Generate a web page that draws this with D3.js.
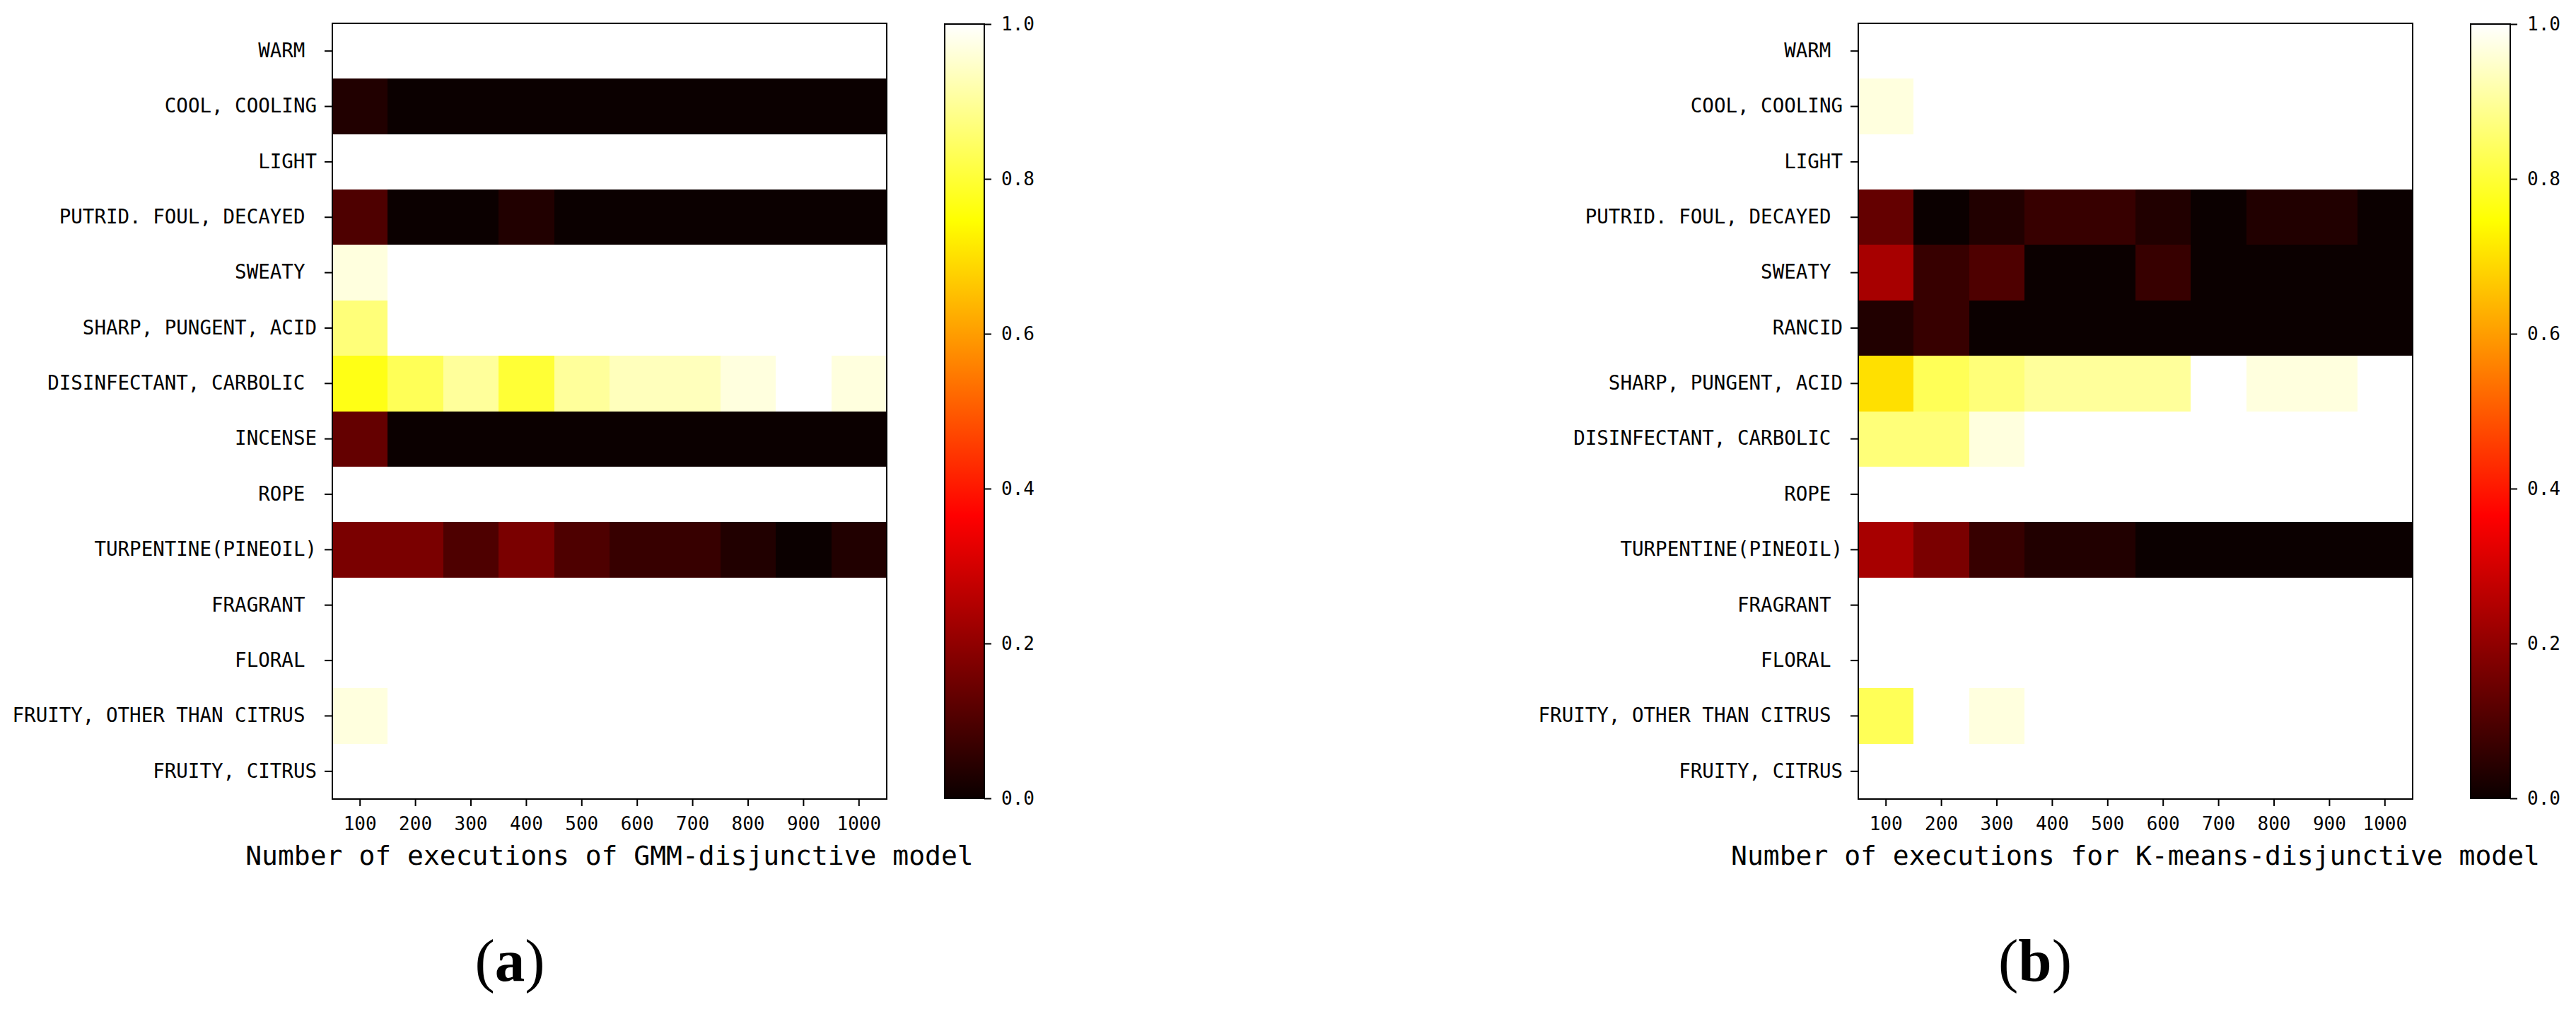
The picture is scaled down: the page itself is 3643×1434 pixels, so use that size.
<!DOCTYPE html>
<html>
<head>
<meta charset="utf-8">
<script src="https://cdn.jsdelivr.net/npm/d3@7"></script>
<style>
  body { margin: 0; background: #fff; }
  svg text { white-space: pre; }
</style>
</head>
<body>
<svg id="chart" width="3643" height="1434"></svg>
<script>
// data
var executions = ["100", "200", "300", "400", "500", "600", "700", "800", "900", "1000"];

var gmmCategories = ["WARM ", "COOL, COOLING", "LIGHT", "PUTRID. FOUL, DECAYED ", "SWEATY ",
	"SHARP, PUNGENT, ACID", "DISINFECTANT, CARBOLIC ", "INCENSE", "ROPE ", "TURPENTINE(PINEOIL)",
	"FRAGRANT ", "FLORAL ", "FRUITY, OTHER THAN CITRUS ", "FRUITY, CITRUS"];

var kmeansCategories = ["WARM ", "COOL, COOLING", "LIGHT", "PUTRID. FOUL, DECAYED ", "SWEATY ",
	"RANCID", "SHARP, PUNGENT, ACID", "DISINFECTANT, CARBOLIC ", "ROPE ", "TURPENTINE(PINEOIL)",
	"FRAGRANT ", "FLORAL ", "FRUITY, OTHER THAN CITRUS ", "FRUITY, CITRUS"];

var gmmValues = [
	[1, 1, 1, 1, 1, 1, 1, 1, 1, 1],
	[0.033, 0, 0, 0, 0, 0, 0, 0, 0, 0],
	[1, 1, 1, 1, 1, 1, 1, 1, 1, 1],
	[0.1, 0, 0, 0.033, 0, 0, 0, 0, 0, 0],
	[0.967, 1, 1, 1, 1, 1, 1, 1, 1, 1],
	[0.867, 1, 1, 1, 1, 1, 1, 1, 1, 1],
	[0.767, 0.833, 0.9, 0.8, 0.9, 0.933, 0.933, 0.967, 1, 0.967],
	[0.133, 0, 0, 0, 0, 0, 0, 0, 0, 0],
	[1, 1, 1, 1, 1, 1, 1, 1, 1, 1],
	[0.167, 0.167, 0.1, 0.167, 0.1, 0.067, 0.067, 0.033, 0, 0.033],
	[1, 1, 1, 1, 1, 1, 1, 1, 1, 1],
	[1, 1, 1, 1, 1, 1, 1, 1, 1, 1],
	[0.967, 1, 1, 1, 1, 1, 1, 1, 1, 1],
	[1, 1, 1, 1, 1, 1, 1, 1, 1, 1]
];

var kmeansValues = [
	[1, 1, 1, 1, 1, 1, 1, 1, 1, 1],
	[0.967, 1, 1, 1, 1, 1, 1, 1, 1, 1],
	[1, 1, 1, 1, 1, 1, 1, 1, 1, 1],
	[0.133, 0, 0.033, 0.067, 0.067, 0.033, 0, 0.033, 0.033, 0],
	[0.233, 0.067, 0.1, 0, 0, 0.067, 0, 0, 0, 0],
	[0.033, 0.067, 0, 0, 0, 0, 0, 0, 0, 0],
	[0.7, 0.833, 0.867, 0.9, 0.9, 0.9, 1, 0.967, 0.967, 1],
	[0.867, 0.867, 0.967, 1, 1, 1, 1, 1, 1, 1],
	[1, 1, 1, 1, 1, 1, 1, 1, 1, 1],
	[0.233, 0.167, 0.067, 0.033, 0.033, 0, 0, 0, 0, 0],
	[1, 1, 1, 1, 1, 1, 1, 1, 1, 1],
	[1, 1, 1, 1, 1, 1, 1, 1, 1, 1],
	[0.833, 1, 0.967, 1, 1, 1, 1, 1, 1, 1],
	[1, 1, 1, 1, 1, 1, 1, 1, 1, 1]
];

var colorbarTicks = [0, 0.2, 0.4, 0.6, 0.8, 1.0];

var xLabels = ["Number of executions of GMM-disjunctive model", "Number of executions for K-means-disjunctive model"];
var panelLetters = ["a", "b"];

var plot = {};
plot.top = 33;
plot.bottom = 1130;
plot.width = 784;
plot.cbWidth = 56;
plot.monoFont = "'DejaVu Sans Mono', monospace";

// matplotlib "hot" colormap, piecewise linear
var hotStops = [
	{ at: 0, c: [0.0416, 0, 0] },
	{ at: 0.365079, c: [1, 0, 0] },
	{ at: 0.746032, c: [1, 1, 0] },
	{ at: 1, c: [1, 1, 1] }
];
function hot(t) {
	t = Math.max(0, Math.min(1, t));
	for (var i = 1; i < hotStops.length; i++) {
		if (t <= hotStops[i].at) {
			var a = hotStops[i - 1], b = hotStops[i];
			var k = (t - a.at) / (b.at - a.at);
			var c = a.c.map(function(v, j){ return Math.round(255 * (v + (b.c[j] - v) * k)); });
			return d3.rgb(c[0], c[1], c[2]).formatHex();
		}
	}
	return "#ffffff";
}
var color = d3.scaleSequential(hot).domain([0, 1]);

var svg = d3.select("#chart");
var defs = svg.append("defs");

var grad = defs.append("linearGradient")
	.attr("id", "hotgrad")
	.attr("x1", 0).attr("y1", 1).attr("x2", 0).attr("y2", 0);
grad.selectAll("stop").data(hotStops).enter().append("stop")
	.attr("offset", function(d){ return d.at; })
	.attr("stop-color", function(d){ return hot(d.at); });

function drawPanel(left, cbLeft, cats, values, xLabel, letter, letterX) {
	var g = svg.append("g");

	var x = d3.scaleBand().domain(executions).range([left, left + plot.width]);
	var y = d3.scaleBand().domain(cats).range([plot.top, plot.bottom]);

	var cells = [];
	values.forEach(function(row, i){
		row.forEach(function(v, j){
			cells.push({ cat: cats[i], ex: executions[j], v: v });
		});
	});

	g.selectAll("rect.cell").data(cells).enter().append("rect")
		.attr("class", "cell")
		.attr("x", function(d){ return x(d.ex); })
		.attr("y", function(d){ return y(d.cat); })
		.attr("width", x.bandwidth())
		.attr("height", y.bandwidth())
		.attr("fill", function(d){ return color(d.v); })
		.attr("shape-rendering", "crispEdges");

	g.append("rect")
		.attr("x", left).attr("y", plot.top)
		.attr("width", plot.width).attr("height", plot.bottom - plot.top)
		.attr("fill", "none").attr("stroke", "#000").attr("stroke-width", 2);

	var yAxis = g.append("g")
		.attr("transform", "translate(" + left + ",0)")
		.call(d3.axisLeft(y).tickSize(11).tickPadding(11));
	var xAxis = g.append("g")
		.attr("transform", "translate(0," + plot.bottom + ")")
		.call(d3.axisBottom(x).tickSize(10).tickPadding(16));

	[yAxis, xAxis].forEach(function(ax){
		ax.select(".domain").remove();
		ax.selectAll("line").attr("stroke", "#000").attr("stroke-width", 2);
		ax.selectAll("text").attr("fill", "#000").attr("xml:space", "preserve");
		ax.attr("font-family", plot.monoFont);
	});
	yAxis.attr("font-size", 27.5);
	xAxis.attr("font-size", 26);

	g.append("text")
		.attr("x", left + plot.width / 2)
		.attr("y", 1223)
		.attr("text-anchor", "middle")
		.attr("font-family", plot.monoFont)
		.attr("font-size", 38)
		.text(xLabel);

	// colorbar
	var cb = d3.scaleLinear().domain([0, 1]).range([plot.bottom - 1, plot.top + 1]);
	g.append("rect")
		.attr("x", cbLeft).attr("y", cb(1))
		.attr("width", plot.cbWidth).attr("height", cb(0) - cb(1))
		.attr("fill", "url(#hotgrad)")
		.attr("stroke", "#000").attr("stroke-width", 2);
	var cbAxis = g.append("g")
		.attr("transform", "translate(" + (cbLeft + plot.cbWidth) + ",0)")
		.call(d3.axisRight(cb).tickValues(colorbarTicks).tickFormat(d3.format(".1f")).tickSize(10).tickPadding(14));
	cbAxis.select(".domain").remove();
	cbAxis.selectAll("line").attr("stroke", "#000").attr("stroke-width", 2);
	cbAxis.selectAll("text").attr("fill", "#000");
	cbAxis.attr("font-family", plot.monoFont).attr("font-size", 26);

	// sub-figure letter
	var lt = g.append("text")
		.attr("x", letterX).attr("y", 1387)
		.attr("text-anchor", "middle")
		.attr("font-family", "'Liberation Serif', 'Times New Roman', serif")
		.attr("font-size", 85);
	lt.append("tspan").text("(");
	lt.append("tspan").attr("font-weight", "bold").text(letter);
	lt.append("tspan").text(")");
}

drawPanel(470, 1336, gmmCategories, gmmValues, xLabels[0], panelLetters[0], 721);
drawPanel(2628, 3494, kmeansCategories, kmeansValues, xLabels[1], panelLetters[1], 2878);
</script>
</body>
</html>
